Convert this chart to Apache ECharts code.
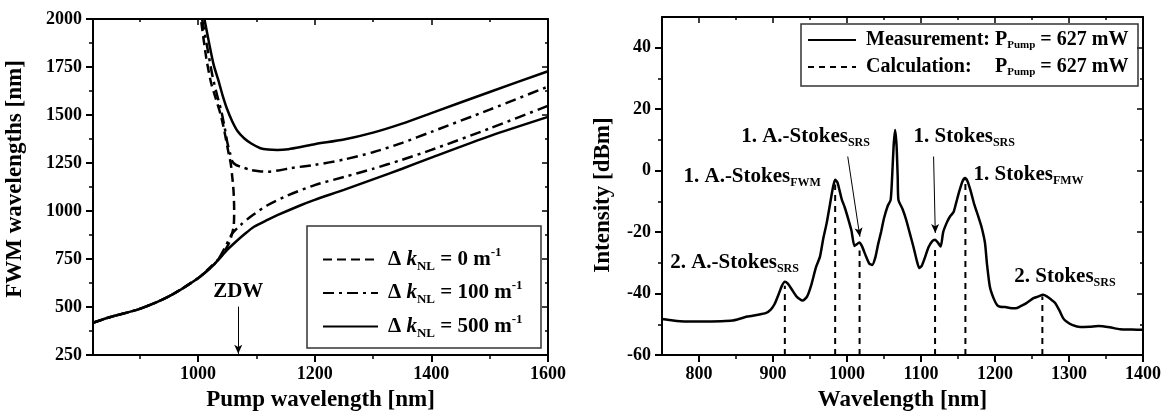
<!DOCTYPE html>
<html>
<head>
<meta charset="utf-8">
<script src="https://cdn.jsdelivr.net/npm/echarts@6/dist/echarts.min.js"></script>
<style>
html, body { margin: 0; padding: 0; background: #fff; }
#chart { width: 1175px; height: 414px; }
</style>
</head>
<body>
<div id="chart"></div>
<script>
// ---------- Left panel: FWM phase-matching curves [pump nm, FWM nm] ----------
const dk0Curve = [[820,418],[850,448],[900,490],[950,555],[1000,650],[1022,710],[1039,762],[1053,832],[1061,918],[1062,1005],[1061,1100],[1059,1170],[1056,1250],[1053,1292],[1045,1420],[1039,1500],[1030,1590],[1022,1673],[1014,1800],[1005,2000]];
const dk100Lower = [[820,418],[850,448],[900,490],[950,555],[1000,650],[1027,720],[1036,754],[1048,820],[1059,884],[1073,927],[1090,970],[1119,1030],[1153,1080],[1200,1135],[1250,1177],[1300,1220],[1350,1267],[1400,1318],[1500,1430],[1600,1548]];
const dk100Upper = [[1007,2000],[1016,1850],[1025,1700],[1033,1600],[1040,1520],[1046,1430],[1050,1361],[1055,1300],[1059,1257],[1065,1240],[1073,1231],[1090,1214],[1105,1207],[1119,1205],[1140,1212],[1160,1224],[1200,1240],[1250,1268],[1300,1306],[1350,1355],[1400,1412],[1500,1528],[1600,1648]];
const dk500Lower = [[820,418],[850,448],[900,490],[950,555],[1000,650],[1027,720],[1050,797],[1062,832],[1080,880],[1096,918],[1120,955],[1136,978],[1176,1030],[1200,1058],[1250,1110],[1300,1165],[1350,1220],[1400,1278],[1500,1390],[1600,1490]];
const dk500Upper = [[1011,2000],[1020,1860],[1027,1760],[1035,1680],[1042,1604],[1050,1530],[1059,1465],[1068,1415],[1079,1379],[1092,1350],[1107,1327],[1120,1320],[1136,1318],[1155,1322],[1176,1333],[1200,1348],[1250,1372],[1300,1408],[1350,1455],[1400,1510],[1500,1620],[1600,1728]];
const zdwWavelength = 1069;

// ---------- Right panel: measured spectrum [nm, dBm] ----------
const spectrum = [[750,-48.3],[765,-48.8],[780,-49.1],[805,-49.1],[830,-49],[845,-48.8],[855,-48.2],[865,-47.5],[880,-46.9],[890,-46.4],[897,-45.2],[902,-43.5],[908,-40],[912,-37.5],[916,-36.2],[920,-36.8],[925,-38.5],[932,-41],[940,-42.3],[946,-41],[952,-37],[958,-31.5],[963.5,-28],[968,-22],[972.6,-17],[977,-11],[981,-5.5],[984,-3],[987,-3.8],[990,-6.5],[993,-9.4],[997,-12],[1002,-16],[1006,-19.5],[1010,-24.5],[1013,-24],[1016.6,-23.4],[1020,-24.5],[1025,-27.5],[1030,-30.2],[1034,-30.7],[1038,-28.5],[1042,-24],[1046,-20],[1050,-15.5],[1055,-11.5],[1059,-9.5],[1061,-2],[1063,8],[1065,13.2],[1067,8],[1068.5,-2],[1069.5,-9.5],[1075,-12.5],[1080,-16],[1085,-20.5],[1090,-25],[1094,-29],[1097.7,-31.7],[1101,-31],[1105,-28.5],[1110,-25],[1115,-23],[1119,-22.5],[1123,-23.5],[1126.6,-24.7],[1130,-20],[1134.7,-17],[1139,-15],[1144,-13.5],[1148,-10],[1152,-6.5],[1156,-3.5],[1159.5,-2.4],[1163,-3.5],[1167,-6.5],[1172,-11],[1177.5,-15],[1182,-18.5],[1186.5,-23.6],[1189,-30],[1193,-37.7],[1198,-41.5],[1203,-43.8],[1207,-44.3],[1214,-44.4],[1220,-44.7],[1228,-44.8],[1234,-44.2],[1242,-43.2],[1252,-41.5],[1258,-41],[1265,-40.4],[1270,-40.9],[1275,-41.8],[1281,-43],[1287,-45.5],[1292,-48],[1297,-49.2],[1305,-50.3],[1315,-50.9],[1328,-50.8],[1340,-50.6],[1355,-51],[1369,-51.6],[1385,-51.7],[1400,-51.8]];
// calculated line positions and their levels
const calcWavelengths = [916, 984, 1017, 1119, 1160, 1264];
const calcLevels = [-37.5, -4.5, -26, -24.5, -3.5, -41];

// peak labels: main text + subscript
const peakNames = [['1. A.-Stokes','SRS'],['1. A.-Stokes','FWM'],['2. A.-Stokes','SRS'],['1. Stokes','SRS'],['1. Stokes','FMW'],['2. Stokes','SRS']];

// ---------- Tick values ----------
const leftXLabels = [1000, 1200, 1400, 1600];
const leftXMinor = [900, 1100, 1300, 1500];
const leftYLabels = [250, 500, 750, 1000, 1250, 1500, 1750, 2000];
const leftYMinor = [375, 625, 875, 1125, 1375, 1625, 1875];
const rightXLabels = [800, 900, 1000, 1100, 1200, 1300, 1400];
const rightXMinor = [850, 950, 1050, 1150, 1250, 1350];
const rightYLabels = [-60, -40, -20, 0, 20, 40];
const rightYMinor = [-50, -30, -10, 10, 30];

// ---------- Layout ----------
const FONT = '"Liberation Serif", "Times New Roman", serif';
const peakAnchors = [[857, 11], [779, -2], [761, -30], [1090, 11], [1171, -1.3], [1226, -34.5]];
const srsArrows = [[[1001, 4.6], [1017.4, -21.5]], [[1117, 4.6], [1119.3, -20.3]]];

const GAP = ['-', '-'];
const NO_MARK = { color: 'rgba(0,0,0,0)', borderColor: 'rgba(0,0,0,0)', borderWidth: 0 };
const chart = echarts.init(document.getElementById('chart'), null, { renderer: 'canvas' });

// builds the four framed sides (major + minor tick axes) for one grid
function frameAxes(dim, g, min, max, majors, minors, name, nameGap, namePadding) {
  const lowPos = dim === 'x' ? 'bottom' : 'left';
  const highPos = dim === 'x' ? 'top' : 'right';
  const base = {
    type: 'value', gridIndex: g, min: min, max: max,
    splitLine: { show: false }, axisPointer: { show: false }
  };
  const line = { show: true, onZero: false, lineStyle: { color: '#000', width: 2 } };
  const hidden = { show: false, onZero: false };
  return [
    Object.assign({}, base, {
      position: lowPos, axisLine: line,
      axisTick: { show: true, inside: false, length: 7, customValues: majors, lineStyle: { color: '#000', width: 2 } },
      axisLabel: { show: true, customValues: majors, margin: dim === 'x' ? 10 : 11, color: '#000',
        formatter: (v) => String(v),
        fontFamily: FONT, fontWeight: 'bold', fontSize: 18 },
      name: name, nameLocation: 'middle', nameGap: nameGap,
      nameTextStyle: { fontFamily: FONT, fontWeight: 'bold', fontSize: 23, color: '#000', padding: namePadding }
    }),
    Object.assign({}, base, {
      position: lowPos, axisLine: hidden,
      axisTick: { show: true, inside: false, length: 4, customValues: minors, lineStyle: { color: '#000', width: 1.5 } },
      axisLabel: { show: false }
    }),
    Object.assign({}, base, {
      position: highPos, axisLine: line,
      axisTick: { show: true, inside: true, length: 6, customValues: majors, lineStyle: { color: '#000', width: 1.5 } },
      axisLabel: { show: false }
    }),
    Object.assign({}, base, {
      position: highPos, axisLine: hidden,
      axisTick: { show: true, inside: true, length: 3, customValues: minors, lineStyle: { color: '#000', width: 1.5 } },
      axisLabel: { show: false }
    })
  ];
}

const legendRich = {
  d: { fontFamily: FONT, fontWeight: 'bold', fontSize: 21, color: '#000', lineHeight: 22, padding: [0, 0, 0, 5] },
  k: { fontFamily: FONT, fontWeight: 'bold', fontStyle: 'italic', fontSize: 21, color: '#000', lineHeight: 22 },
  s: { fontFamily: FONT, fontWeight: 'bold', fontSize: 13, color: '#000', lineHeight: 14, padding: [14, 0, 0, 0] },
  t: { fontFamily: FONT, fontWeight: 'bold', fontSize: 21, color: '#000', lineHeight: 22 },
  p: { fontFamily: FONT, fontWeight: 'bold', fontSize: 13, color: '#000', lineHeight: 14, padding: [0, 0, 14, 0] }
};
const legend2Rich = {
  lab: { fontFamily: FONT, fontWeight: 'bold', fontSize: 20, color: '#000', lineHeight: 20, width: 129, padding: [0, 0, 0, 5] },
  t: { fontFamily: FONT, fontWeight: 'bold', fontSize: 20, color: '#000', lineHeight: 20 },
  s: { fontFamily: FONT, fontWeight: 'bold', fontSize: 11, color: '#000', lineHeight: 12, padding: [11, 0, 0, 0] }
};
const peakRich = {
  t: { fontFamily: FONT, fontWeight: 'bold', fontSize: 21, color: '#000', lineHeight: 22 },
  s: { fontFamily: FONT, fontWeight: 'bold', fontSize: 12, color: '#000', lineHeight: 13, padding: [13, 0, 0, 0] }
};

const seriesNames = ['Δk_NL = 0 m^-1', 'Δk_NL = 100 m^-1', 'Δk_NL = 500 m^-1'];
const dkValues = ['0', '100', '500'];
const curveStyle = (type) => ({ color: '#000', width: 2.5, type: type, cap: 'butt' });

const option = {
  animation: false,
  backgroundColor: '#fff',
  grid: [
    { left: 93, right: 627, top: 19, bottom: 59, outerBoundsMode: 'none', containLabel: false },
    { left: 662, right: 32, top: 17, bottom: 59, outerBoundsMode: 'none', containLabel: false }
  ],
  xAxis: [].concat(
    frameAxes('x', 0, 820, 1600, leftXLabels, leftXMinor, 'Pump wavelength [nm]', 34, 0),
    frameAxes('x', 1, 750, 1400, rightXLabels, rightXMinor, 'Wavelength [nm]', 34, 0)
  ),
  yAxis: [].concat(
    frameAxes('y', 0, 250, 2000, leftYLabels, leftYMinor, 'FWM wavelengths [nm]', 66, [0, 0, 0, 16]),
    frameAxes('y', 1, -60, 50, rightYLabels, rightYMinor, 'Intensity [dBm]', 47, [0, 18, 0, 0])
  ),
  legend: [
    {
      data: seriesNames, orient: 'vertical', left: 322, top: 246, padding: 0,
      itemWidth: 55, itemHeight: 14, itemGap: 6.5,
      itemStyle: NO_MARK,
      formatter: (name) => '{d|Δ }{k|k}{s|NL}{t| = ' + dkValues[seriesNames.indexOf(name)] + ' m}{p|-1}',
      textStyle: { rich: legendRich }, selectedMode: false
    },
    {
      data: ['Measurement', 'Calculation'], orient: 'vertical', left: 807, top: 29, padding: 0,
      itemWidth: 48, itemHeight: 14, itemGap: 5,
      itemStyle: NO_MARK,
      formatter: (name) => '{lab|' + name + ':}{t|P}{s|Pump}{t| = 627 mW}',
      textStyle: { rich: legend2Rich }, selectedMode: false
    }
  ],
  graphic: [
    { type: 'rect', shape: { x: 307, y: 226, width: 234, height: 122 }, style: { fill: 'none', stroke: '#333', lineWidth: 1.5 }, z: 1 },
    { type: 'rect', shape: { x: 801, y: 24, width: 337, height: 62 }, style: { fill: 'none', stroke: '#333', lineWidth: 1.5 }, z: 1 }
  ],
  series: [
    { name: seriesNames[0], type: 'line', xAxisIndex: 0, yAxisIndex: 0, data: dk0Curve,
      showSymbol: false, symbol: 'none', smooth: 0.25, itemStyle: NO_MARK, lineStyle: curveStyle([9, 5]) },
    { name: seriesNames[1], type: 'line', xAxisIndex: 0, yAxisIndex: 0, data: dk100Lower.concat([GAP], dk100Upper),
      showSymbol: false, symbol: 'none', smooth: 0.25, itemStyle: NO_MARK, lineStyle: curveStyle([11, 5, 3, 5]) },
    { name: seriesNames[2], type: 'line', xAxisIndex: 0, yAxisIndex: 0, data: dk500Lower.concat([GAP], dk500Upper),
      showSymbol: false, symbol: 'none', smooth: 0.25, itemStyle: NO_MARK, lineStyle: curveStyle('solid') },
    { type: 'scatter', xAxisIndex: 0, yAxisIndex: 0, silent: true, symbolSize: 0,
      itemStyle: { opacity: 1 },
      data: [[zdwWavelength, 580]],
      label: { show: true, position: 'inside', align: 'center', verticalAlign: 'middle', formatter: 'ZDW',
        fontFamily: FONT, fontWeight: 'bold', fontSize: 21, color: '#000', opacity: 1 },
      markLine: { silent: true, symbol: ['none', 'arrow'], symbolSize: [6, 9], label: { show: false },
        lineStyle: { color: '#000', width: 1, type: 'solid', opacity: 1 },
        data: [[{ coord: [zdwWavelength, 502] }, { coord: [zdwWavelength, 256] }]] } },

    { name: 'Measurement', type: 'line', xAxisIndex: 4, yAxisIndex: 4, data: spectrum,
      showSymbol: false, symbol: 'none', smooth: 0.2, itemStyle: NO_MARK, lineStyle: { color: '#000', width: 2.5 } },
    { name: 'Calculation', type: 'line', xAxisIndex: 4, yAxisIndex: 4,
      data: calcWavelengths.flatMap((w, i) => [[w, -60], [w, calcLevels[i]], GAP]),
      showSymbol: false, symbol: 'none', itemStyle: NO_MARK, lineStyle: { color: '#000', width: 2, type: [6, 5] } },
    { type: 'scatter', xAxisIndex: 4, yAxisIndex: 4, silent: true, symbolSize: 0,
      itemStyle: { opacity: 1 },
      data: peakAnchors.map((p, i) => ({ value: p, label: { formatter: '{t|' + peakNames[i][0] + '}{s|' + peakNames[i][1] + '}' } })),
      label: { show: true, position: 'inside', align: 'left', verticalAlign: 'middle', opacity: 1, rich: peakRich },
      markLine: { silent: true, symbol: ['none', 'arrow'], symbolSize: [6, 9], label: { show: false },
        lineStyle: { color: '#000', width: 1, type: 'solid', opacity: 1 },
        data: srsArrows.map(a => [{ coord: a[0] }, { coord: a[1] }]) } }
  ]
};
chart.setOption(option);
</script>
</body>
</html>
